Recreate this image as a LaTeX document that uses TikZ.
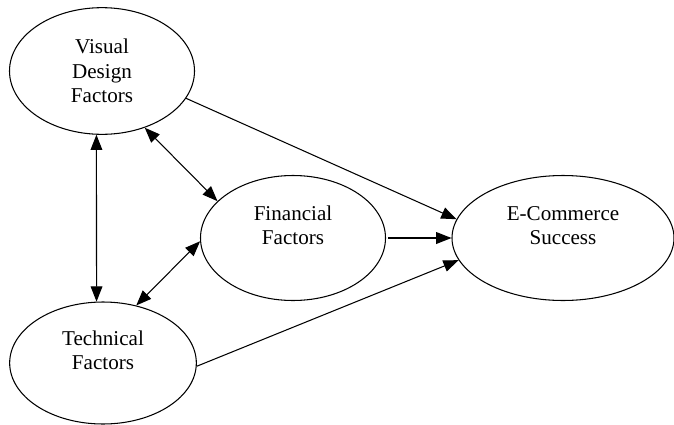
\documentclass[tikz,border=0pt]{standalone}
\usepackage{fontspec}
\setmainfont{Liberation Serif}
\usetikzlibrary{positioning, arrows.meta, shapes.geometric}

\begin{document}
\begin{tikzpicture}[node distance=8.1cm, line width=0.9pt,
    >={Triangle[length=13pt, width=10pt]},
    factor/.style={ellipse, draw, inner sep=0pt, align=center,
        font=\fontsize{18}{21}\selectfont,
        minimum width=5.55cm, minimum height=3.75cm},
    raised/.style={text depth=0.76cm}]
    \useasboundingbox (0,0) rectangle (20.22,-12.75);

    \node[factor, minimum height=3.8cm] (visual) at (3.06,-2.13) {Visual\\Design\\Factors};
    \node[factor, raised, node distance=8.76cm, below of=visual, xshift=0.03cm, minimum width=5.6cm, minimum height=3.66cm] (tech) {Technical\\Factors};
    \node[factor, raised, node distance=5.73cm, right of=visual, yshift=-5.01cm] (fin) {Financial\\Factors};
    \node[factor, raised, right of=fin, minimum width=6.66cm] (ecom) {E-Commerce\\Success};

    \draw[->] (visual.-18) -- (ecom.170);
    \draw[->, shorten <=2pt] (fin.east) -- (ecom.west);
    \draw[->] (tech.-2) -- (ecom.192);
    \draw[<->] (visual.-53) -- (fin.154);
    \draw[<->] (tech.60) -- (fin.182);
    \draw[<->] (visual.-95) -- (tech.96);
\end{tikzpicture}
\end{document}
